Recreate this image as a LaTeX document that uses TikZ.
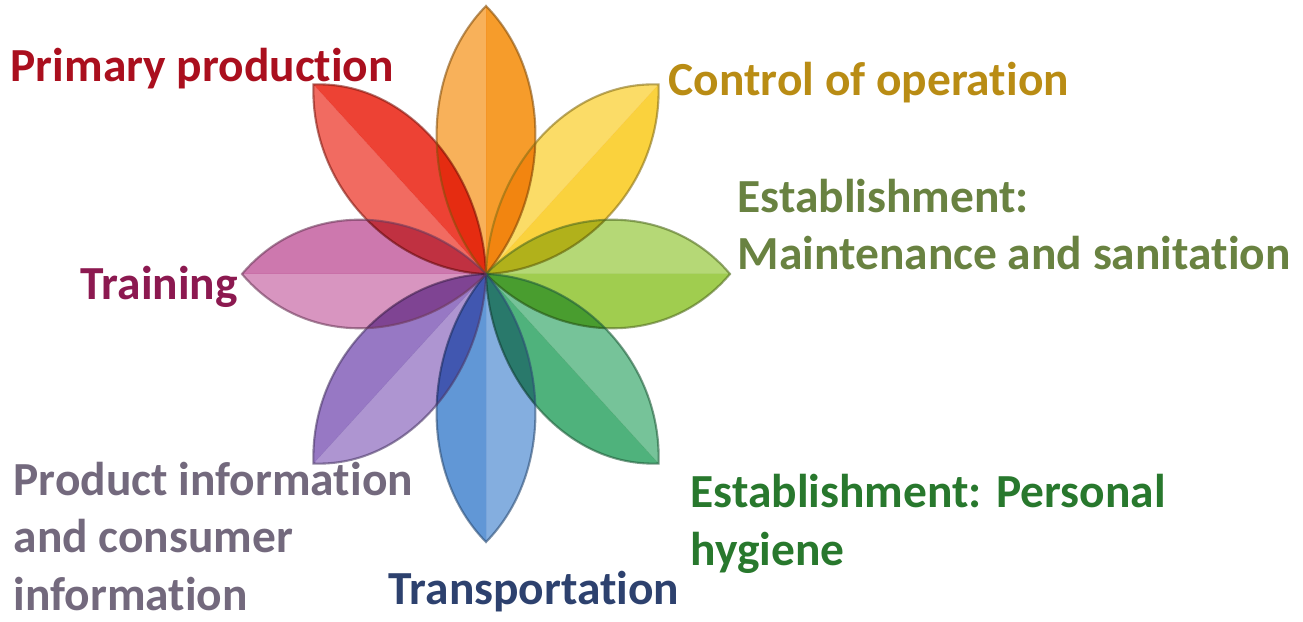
\documentclass[tikz,border=0pt]{standalone}
\usepackage{fontspec}
\setmainfont{Carlito}[Ligatures=NoCommon]
\definecolor{petalRed}{RGB}{235,45,30}
\definecolor{petalOrange}{RGB}{245,145,20}
\definecolor{petalYellow}{RGB}{250,205,40}
\definecolor{petalLime}{RGB}{150,200,60}
\definecolor{petalGreen}{RGB}{60,170,110}
\definecolor{petalBlue}{RGB}{80,140,210}
\definecolor{petalPurple}{RGB}{140,105,190}
\definecolor{petalPink}{RGB}{200,105,165}
\definecolor{txtPrimary}{RGB}{170,15,30}
\definecolor{txtControl}{RGB}{185,140,20}
\definecolor{txtUpkeep}{RGB}{105,130,65}
\definecolor{txtTraining}{RGB}{140,25,80}
\definecolor{txtProduct}{RGB}{115,105,125}
\definecolor{txtTransport}{RGB}{45,65,110}
\definecolor{txtHygiene}{RGB}{40,120,45}

\begin{document}
\begin{tikzpicture}[
    label/.style={anchor=base west, inner sep=0pt, align=left,
        font=\bfseries\fontsize{13.5}{16.3}\selectfont},
    petal/.pic={
        \fill[#1!78!white, blend mode=multiply, fill opacity=0.9]
            (0,0) .. controls (-0.26,0.28) and (-0.28,0.74) .. (0,1) -- cycle;
        \fill[#1, blend mode=multiply, fill opacity=0.9]
            (0,0) .. controls (0.26,0.28) and (0.28,0.74) .. (0,1) -- cycle;
        \draw[#1!55!black, line width=0.6pt, draw opacity=0.6]
            (0,0) .. controls (-0.26,0.28) and (-0.28,0.74) .. (0,1)
            .. controls (0.28,0.74) and (0.26,0.28) .. (0,0);
    }
]
    \useasboundingbox (0,0) rectangle (13.03,6.21);
    \coordinate (centre) at (4.86,3.47);

    % flower
    \begin{scope}[shift={(centre)}, xscale=2.44, yscale=2.68, transform shape]
        \pic[rotate=45] {petal=petalRed};
        \pic {petal=petalOrange};
        \pic[rotate=-45] {petal=petalYellow};
        \pic[rotate=-90] {petal=petalLime};
        \pic[rotate=-135] {petal=petalGreen};
        \pic[rotate=180] {petal=petalBlue};
        \pic[rotate=135] {petal=petalPurple};
        \pic[rotate=90] {petal=petalPink};
    \end{scope}

    % labels (base = last line)
    \node[label, text=txtPrimary] (primary) at (0.10,5.39) {Primary production};
    \node[label, text=txtControl] (control) at (6.68,5.25) {Control of operation};
    \node[label, text=txtUpkeep] (upkeep) at (7.37,3.51)
        {Establishment:\\Maintenance and sanitation};
    \node[label, text=txtTraining] (training) at (0.80,3.21) {Training};
    \node[label, text=txtProduct] (product) at (0.13,0.11)
        {Product information\\and consumer\\information};
    \node[label, text=txtTransport] (transport) at (3.88,0.16) {Transportation};
    \node[label, text=txtHygiene] (hygiene) at (6.90,0.56)
        {Establishment: Personal\\hygiene};
\end{tikzpicture}
\end{document}
